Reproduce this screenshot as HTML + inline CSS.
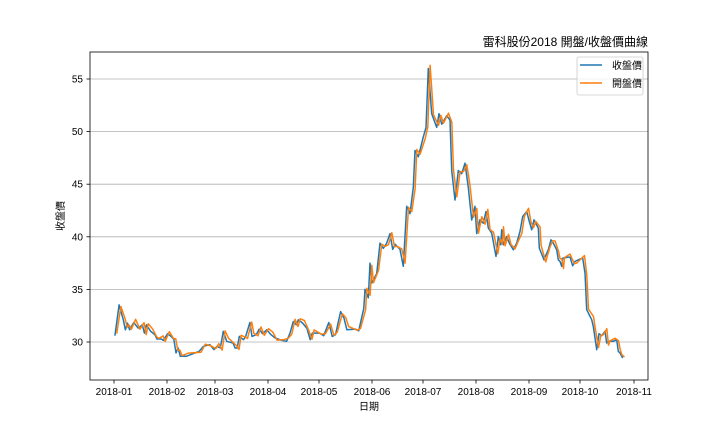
<!DOCTYPE html>
<html><head><meta charset="utf-8">
<style>
html,body{margin:0;padding:0;background:#fff;}
svg{display:block;font-family:"Liberation Sans","Noto Sans CJK TC",sans-serif;}
</style></head>
<body>
<svg id="c" width="720" height="432" viewBox="0 0 720 432" xmlns="http://www.w3.org/2000/svg">
<rect width="720" height="432" fill="#fff"/>
<g id="grid" stroke="#b0b0b0" stroke-width="0.8"></g>
<g id="series" fill="none" stroke-width="1.5" stroke-linejoin="round"></g>
<rect x="90" y="52" width="558" height="328" fill="none" stroke="#000" stroke-width="0.8"/>
<g id="ticks" font-size="10" fill="#000"></g>
<text x="648" y="46" font-size="12" text-anchor="end">雷科股份2018 開盤/收盤價曲線</text>
<text x="369" y="410" font-size="10" text-anchor="middle">日期</text>
<text transform="translate(64,216) rotate(-90)" font-size="10" text-anchor="middle">收盤價</text>
<rect x="577" y="57" width="66" height="38" rx="2" fill="#fff" fill-opacity="0.8" stroke="#ccc" stroke-width="0.8"/>
<line x1="580" y1="65" x2="602" y2="65" stroke="#1f77b4" stroke-width="1.5"/>
<line x1="580" y1="83" x2="602" y2="83" stroke="#ff7f0e" stroke-width="1.5"/>
<text x="612" y="69" font-size="10">收盤價</text>
<text x="612" y="87" font-size="10">開盤價</text>
</svg>
<script>
var Y=function(v){return 342-(v-30)*10.52;};
var g=document.getElementById('grid'),t=document.getElementById('ticks'),s=document.getElementById('series');
var NS='http://www.w3.org/2000/svg';
function el(p,n,a,txt){var e=document.createElementNS(NS,n);for(var k in a)e.setAttribute(k,a[k]);if(txt)e.textContent=txt;p.appendChild(e);return e;}
[30,35,40,45,50,55].forEach(function(v){var y=Y(v);el(g,'line',{x1:90,x2:648,y1:y,y2:y});
el(t,'line',{x1:86.5,x2:90,y1:y,y2:y,stroke:'#000','stroke-width':0.8});
el(t,'text',{x:83,y:y+3.5,'text-anchor':'end'},String(v));});
var mx=[114,167,215,268,319,372,423,476,529,580,634];
var ml=['01','02','03','04','05','06','07','08','09','10','11'];
mx.forEach(function(x,i){el(t,'line',{x1:x,x2:x,y1:380,y2:383.5,stroke:'#000','stroke-width':0.8});
el(t,'text',{x:x,y:395,'text-anchor':'middle'},'2018-'+ml[i]);});
var z2=[[130,168],[140,75],[150,120],[155,150],[160,130],[165,150],[175,128],[185,145],[195,135],[200,160],[205,135],[215,155],[225,165],[230,178],[240,178],[245,182],[255,162],[265,172],[270,180],[275,220],[280,205],[285,230],[300,230],[330,215],[340,200],[355,195],[365,210],[372,200],[380,205],[387,155],[395,185],[410,190],[415,205],[420,205],[425,170],[435,180],[440,170],[450,128],[455,170],[465,165],[472,148],[480,162],[490,150],[500,165],[510,175],[525,182],[537,185],[545,160],[553,125],[560,135],[565,120],[575,130],[585,145],[593,180],[598,160],[615,160],[625,168],[637,128],[645,170],[653,165],[665,95],[673,115],[680,150],[700,148],[708,153],[720,85]];
var pts=z2.map(function(p){return [60+p[0]/2.37,35-(p[1]-28)/31.8];});
var z3=[[365,35.0],[368.3,34.2],[370,37.5],[371.7,35.6],[376.7,36.5],[380,39.4],[383.3,38.9],[386.7,39.4],[390,40.3],[392.7,38.8],[395,39.3],[400,38.8],[403.3,37.2],[406.7,42.9],[410,42.2],[413.3,44.7],[415,48.2],[418.3,47.6],[423.3,49.5],[426,50.4],[428.3,56.0],[431.7,51.7],[436.7,50.4],[439,51.7],[441.7,50.7],[446.7,51.5],[450,51.1],[451.7,46.3],[455,43.5],[458.3,46.3],[461.7,46.0],[465,47.0],[468.3,44.7],[471.7,41.6],[475,42.9],[476.7,40.3]];
pts=pts.concat(z3);
var z4=[[0,120],[10,130],[18,95],[25,145],[35,160],[48,230],[55,170],[62,195],[65,150],[70,195],[80,170],[88,190],[100,210],[110,190],[120,155],[128,110],[140,95],[148,125],[155,150],[162,120],[175,145],[178,205],[192,240],[198,225],[205,210],[213,180],[220,190],[230,210],[235,240],[240,245],[245,260],[248,235],[265,232],[270,232],[278,258],[285,245],[300,238],[308,235],[315,280],[320,390],[335,420],[340,440],[350,510],[357,462],[365,468],[375,455],[380,490],[385,485],[400,485],[410,480],[415,515],[420,520],[428,535]];
pts=pts.concat(z4.map(function(p){return [480+p[0]/3,45-(p[1]-13)/31.6];}));
function path(a,dx,noise){var d='';a.forEach(function(p,i){var v=p[1]+(noise?noise[i%noise.length]:0);d+=(i?'L':'M')+(p[0]+dx).toFixed(1)+','+Y(v).toFixed(1);});return d;}
el(s,'path',{d:path(pts,0),stroke:'#1f77b4'});
el(s,'path',{d:path(pts,1.8,[0.2,-0.15,0.1,0.25,-0.2,0.05,0.3,-0.1]),stroke:'#ff7f0e'});
</script>
</body></html>
